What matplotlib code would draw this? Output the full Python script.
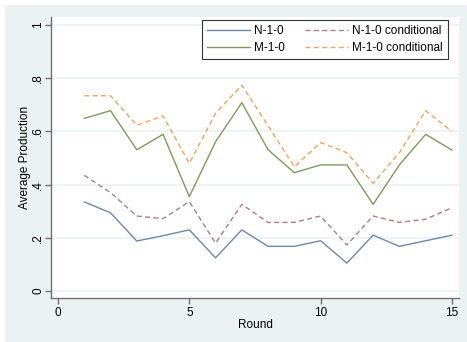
import numpy as np
import matplotlib
matplotlib.use("Agg")
from matplotlib import pyplot as plt
from matplotlib.ticker import FuncFormatter

plt.rcParams['font.family'] = ['Liberation Sans', 'DejaVu Sans']

rounds = list(range(1, 16))
n_10 = [0.335, 0.294, 0.188, 0.208, 0.230, 0.125, 0.230, 0.168, 0.168, 0.189,
        0.105, 0.210, 0.168, 0.189, 0.210]
n_10_cond = [0.435, 0.370, 0.282, 0.272, 0.336, 0.180, 0.326, 0.258, 0.258, 0.282,
             0.173, 0.282, 0.258, 0.270, 0.313]
m_10 = [0.649, 0.678, 0.531, 0.589, 0.355, 0.561, 0.708, 0.531, 0.445, 0.474,
        0.474, 0.326, 0.474, 0.589, 0.530]
m_10_cond = [0.734, 0.734, 0.623, 0.658, 0.480, 0.668, 0.774, 0.621, 0.467, 0.558,
             0.520, 0.405, 0.520, 0.678, 0.600]

y_ticks = [0, 0.2, 0.4, 0.6, 0.8, 1]
x_ticks = [0, 5, 10, 15]

bg = '#EAF2F3'
fig = plt.figure(figsize=(4.67, 3.42), dpi=100, facecolor='white')
# outer stata-like background
bax = fig.add_axes([5 / 467, 0, 1 - 5 / 467, 1 - 5 / 342], zorder=-1)
bax.set_facecolor(bg)
bax.set_xticks([])
bax.set_yticks([])
for s in bax.spines.values():
    s.set_visible(False)

ax = fig.add_axes([51 / 467, 1 - 297.7 / 342, (459 - 51) / 467, (297.7 - 17) / 342])
ax.set_facecolor('white')

dash = (3.6, 2.4)
ax.plot(rounds, n_10, color='#6E87AA', lw=1.0, label='N-1-0')
ax.plot(rounds, m_10, color='#7E9A5E', lw=1.0, label='M-1-0')
ax.plot(rounds, n_10_cond, color='#B07C7E', lw=1.0, dashes=dash, label='N-1-0 conditional')
ax.plot(rounds, m_10_cond, color='#F0A45E', lw=1.0, dashes=dash, label='M-1-0 conditional')

ax.set_xlim(-0.267, 15.27)
ax.set_ylim(-0.025, 1.03)
ax.set_xticks(x_ticks)
ax.set_yticks(y_ticks)
ax.yaxis.set_major_formatter(FuncFormatter(lambda v, p: '0' if v == 0 else ('1' if v == 1 else ('%.1f' % v).lstrip('0'))))
ax.grid(axis='y', color=bg, lw=1.2)
ax.set_axisbelow(True)

for s in ['top', 'right']:
    ax.spines[s].set_visible(False)
for s in ['left', 'bottom']:
    ax.spines[s].set_color('#707070')
    ax.spines[s].set_linewidth(1.0)
ax.tick_params(axis='both', colors='#707070', length=4, width=1.0, labelsize=8.5,
               labelcolor='black', pad=2.5)
ax.tick_params(axis='y', pad=1.0)
for lab in ax.get_yticklabels():
    lab.set_rotation(90)
    lab.set_va('center')

ax.set_xlabel('Round', fontsize=8.5)
ax.set_ylabel('Average Production', fontsize=8.5)
ax.xaxis.set_label_coords(0.5, -0.077)
ax.yaxis.set_label_coords(-0.05, 0.5)

leg = ax.legend(ncol=2, loc='upper right', bbox_to_anchor=(0.973, 0.989), borderaxespad=0,
                fontsize=8.5, frameon=True, fancybox=False, handlelength=3.6,
                handletextpad=0.35, columnspacing=1.75, borderpad=0.45, labelspacing=0.4)
leg.get_frame().set_edgecolor('black')
leg.get_frame().set_linewidth(0.8)

fig.savefig('out.png', dpi=100)
